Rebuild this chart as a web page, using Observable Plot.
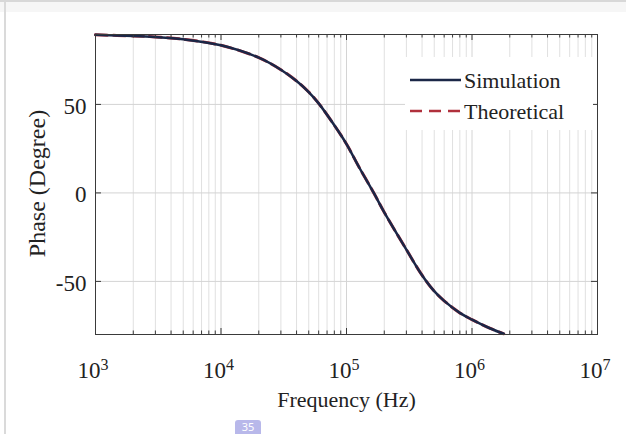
<!DOCTYPE html>
<html>
<head>
<meta charset="utf-8">
<script src="https://cdn.jsdelivr.net/npm/d3@7"></script>
<script src="https://cdn.jsdelivr.net/npm/@observablehq/plot@0.6"></script>
<style>
  html, body { margin: 0; padding: 0; background: #fff; }
  #wrap { position: relative; width: 626px; height: 434px; overflow: hidden; background: #fff; font-family: "Liberation Serif", "Times New Roman", serif; }
  #topband { position: absolute; left: 0; top: 0; width: 626px; height: 12px; background: #f6f6f6; border-top: 2px solid #d8d8d8; box-sizing: border-box; }
  #leftline { position: absolute; left: 4px; top: 2px; width: 2px; height: 432px; background: #dadada; }
  #legend { position: absolute; left: 0; top: 0; }
  #badge { position: absolute; left: 235px; top: 420px; width: 26px; height: 14px; background: #b8b8ea; border-radius: 3px 3px 0 0; color: #fff; font-family: "Noto Sans", sans-serif; font-size: 11px; text-align: center; line-height: 14px; }
</style>
</head>
<body>
<div id="wrap">
  <div id="topband"></div>
  <div id="leftline"></div>
  <div id="chart" style="position:absolute;left:0;top:0;"></div>
  <div id="legend"></div>
  <div id="badge">35</div>
</div>
<script>
// ---- data ----
const freq = [1e3, 2e3, 3e3, 5e3, 1e4, 2e4, 3e4, 4e4, 5e4, 6e4, 8e4, 1e5, 1.26e5, 1.65e5, 2e5, 3e5, 4e5, 5e5, 6e5, 8e5, 1e6, 1.4e6, 1.79e6];
const simulation = [89.3, 88.7, 88.1, 86.8, 83.4, 76.4, 69.6, 63.2, 57, 50.6, 38.2, 27.6, 14.5, 0, -11, -32, -46.5, -55.5, -61, -67.8, -71.6, -76.6, -79.6];
const theoretical = [89.3, 88.7, 88.1, 86.8, 83.4, 76.4, 69.6, 63.2, 57, 50.6, 38.2, 27.6, 14.5, 0, -11, -32, -46.5, -55.5, -61, -67.8, -71.6, -76.6, -79.6];
const xDecades = [1e3, 1e4, 1e5, 1e6, 1e7];
const yTicks = [-50, 0, 50];
const seriesNames = ["Simulation", "Theoretical"];
const xLabel = "Frequency (Hz)";
const yLabel = "Phase (Degree)";

const xDomain = [1e3, 1e7];
const yDomain = [-80, 89.5];

const W = 626, H = 434, mL = 95, mR = 29, mT = 34, mB = 100;
const plotW = W - mL - mR, plotH = H - mT - mB;

const minorTicks = [];
for (const d of xDecades.slice(0, -1)) for (let k = 2; k <= 9; k++) minorTicks.push(d * k);

const simData = freq.map((f, i) => ({f, v: simulation[i]}));
const theoData = freq.map((f, i) => ({f, v: theoretical[i]}));

// pixel -> data-unit helpers for tick lengths
const yPerPx = (yDomain[1] - yDomain[0]) / plotH;
const decPerPx = (Math.log10(xDomain[1]) - Math.log10(xDomain[0])) / plotW;
const majLen = 6, minLen = 3.5;

const navy = "#1b2747";
const red = "#b0303c";
const font = "Liberation Serif, Times New Roman, serif";

const chart = Plot.plot({
  width: W, height: H,
  marginLeft: mL, marginRight: mR, marginTop: mT, marginBottom: mB,
  style: {background: "transparent", fontFamily: font, color: "#222", overflow: "visible"},
  x: {type: "log", domain: xDomain, axis: null},
  y: {domain: yDomain, axis: null},
  marks: [
    // minor grid
    Plot.ruleX(minorTicks, {stroke: "#e0e0e0", strokeWidth: 1}),
    // major grid
    Plot.ruleX(xDecades, {stroke: "#d4d4d4", strokeWidth: 1}),
    Plot.ruleY(yTicks, {stroke: "#d4d4d4", strokeWidth: 1}),
    // curves
    Plot.line(theoData, {x: "f", y: "v", stroke: red, strokeWidth: 3, strokeDasharray: "12,6", curve: "catmull-rom"}),
    Plot.line(simData, {x: "f", y: "v", stroke: navy, strokeWidth: 2.5, curve: "catmull-rom"}),
    // box
    Plot.frame({stroke: "#3a3a3a", strokeWidth: 1}),
    // x ticks bottom/top (inward)
    Plot.ruleX(xDecades, {y1: yDomain[0], y2: yDomain[0] + majLen * yPerPx, stroke: "#3a3a3a"}),
    Plot.ruleX(minorTicks, {y1: yDomain[0], y2: yDomain[0] + minLen * yPerPx, stroke: "#3a3a3a"}),
    Plot.ruleX(xDecades, {y1: yDomain[1], y2: yDomain[1] - majLen * yPerPx, stroke: "#3a3a3a"}),
    Plot.ruleX(minorTicks, {y1: yDomain[1], y2: yDomain[1] - minLen * yPerPx, stroke: "#3a3a3a"}),
    // y ticks left/right (inward)
    Plot.ruleY(yTicks, {x1: xDomain[0], x2: xDomain[0] * Math.pow(10, majLen * decPerPx), stroke: "#3a3a3a"}),
    Plot.ruleY(yTicks, {x1: xDomain[1], x2: xDomain[1] / Math.pow(10, majLen * decPerPx), stroke: "#3a3a3a"}),
    // x tick labels 10^n
    Plot.text(xDecades, {x: d => d, y: yDomain[0], text: () => "10", textAnchor: "end", lineAnchor: "bottom", dx: 5, dy: 43, fontSize: 23, fill: "#222"}),
    Plot.text(xDecades, {x: d => d, y: yDomain[0], text: d => String(Math.round(Math.log10(d))), textAnchor: "start", lineAnchor: "bottom", dx: 5, dy: 35, fontSize: 16, fill: "#222"}),
    // y tick labels
    Plot.text(yTicks, {x: xDomain[0], y: d => d, text: d => String(d), textAnchor: "end", lineAnchor: "middle", dx: -9, dy: 2, fontSize: 23, fill: "#222"}),
    // axis titles
    Plot.text([xLabel], {frameAnchor: "bottom", text: d => d, textAnchor: "middle", lineAnchor: "bottom", dy: 72, fontSize: 22, fill: "#222"}),
    Plot.text([yLabel], {frameAnchor: "left", text: d => d, rotate: -90, textAnchor: "middle", lineAnchor: "middle", dx: -58, dy: -1, fontSize: 24, fill: "#222"})
  ]
});
document.getElementById("chart").appendChild(chart);

// legend overlay
const ns = "http://www.w3.org/2000/svg";
const lg = document.createElementNS(ns, "svg");
lg.setAttribute("width", W); lg.setAttribute("height", H);
const mk = (tag, attrs) => { const e = document.createElementNS(ns, tag); for (const k in attrs) e.setAttribute(k, attrs[k]); lg.appendChild(e); return e; };
mk("rect", {x: 405, y: 57, width: 188, height: 73, fill: "#fff"});
const styles = [{stroke: navy, dash: null, w: 2.4}, {stroke: red, dash: "12,7", w: 2.6}];
seriesNames.forEach((name, i) => {
  const yy = 80 + i * 31;
  const l = mk("line", {x1: 410, x2: 461, y1: yy, y2: yy, stroke: styles[i].stroke, "stroke-width": styles[i].w});
  if (styles[i].dash) l.setAttribute("stroke-dasharray", styles[i].dash);
  const t = mk("text", {x: 464, y: yy, "font-size": 22, "font-family": font, fill: "#222", "dominant-baseline": "central"});
  t.textContent = name;
});
document.getElementById("legend").appendChild(lg);
</script>
</body>
</html>
